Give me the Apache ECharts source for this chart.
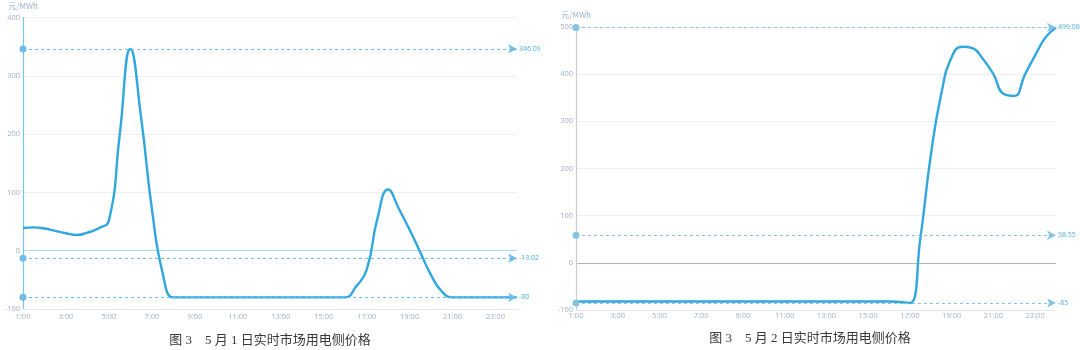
<!DOCTYPE html>
<html><head><meta charset="utf-8">
<script src="https://cdn.jsdelivr.net/npm/echarts@6/dist/echarts.min.js"></script>
<style>
html,body{margin:0;padding:0;background:#fff;}
#wrap{position:relative;width:1080px;height:350px;overflow:hidden;}
.c{position:absolute;top:0;width:540px;height:350px;overflow:hidden;}
</style></head>
<body><div id="wrap"><div id="c1" class="c" style="left:0"></div><div id="c2" class="c" style="left:540px"></div></div>
<script>
const categories = ["1:00","1:30","2:00","2:30","3:00","3:30","4:00","4:30","5:00","5:30","6:00","6:30","7:00","7:30","8:00","8:30","9:00","9:30","10:00","10:30","11:00","11:30","12:00","12:30","13:00","13:30","14:00","14:30","15:00","15:30","16:00","16:30","17:00","17:30","18:00","18:30","19:00","19:30","20:00","20:30","21:00","21:30","22:00","22:30","23:00","23:30","24:00"];
const may1Price = [39,40,38,34,30,27,31,38,52,198,346.09,228,72,-38,-80,
  -80,-80,-80,-80,-80,-80,-80,-80,-80,-80,-80,-80,-80,-80,-80,-80,
  -62,-33,55,105,72,36,-3,-42,-70,-80,
  -80,-80,-80,-80,-80,-80];
const may2Price = [-82,-82,-82,-82,-82,-82,-82,-82,-82,-82,-82,-82,-82,-82,-82,-82,-82,-82,-82,-82,-82,-82,-82,-82,-82,-82,-82,-82,-82,-82,-82,
  -83,-85,52,228,358,436,458,455,432,400,358,354,398,440,478,499.08];
const may1Marks = [346.09, -13.02, -80];
const may2Marks = [499.08, 58.55, -85];
const may1Ticks = {min:-100, max:400, interval:100};
const may2Ticks = {min:-100, max:500, interval:100};
const captions = ["图 3　5 月 1 日实时市场用电侧价格", "图 3　5 月 2 日实时市场用电侧价格"];
const unitName = "元/MWh";

const lineColor = '#31a7e0';
const markColor = '#4fb0e4';
const labelColor = '#9fb2c4';

function build(cfg){
  const nTicks = (cfg.ticks.max - cfg.ticks.min)/cfg.ticks.interval + 1;
  const splitColors = [];
  for(let i=0;i<nTicks;i++){
    const v = cfg.ticks.min + i*cfg.ticks.interval;
    splitColors.push(v===0 ? cfg.zeroColor : '#eceff3');
  }
  const ls = {color:cfg.markLineColor, type:[3,3], width:1};
  return {
    animation:false,
    grid:cfg.grid,
    xAxis:{type:'category', data:categories, boundaryGap:false,
      axisLine:{onZero:false, lineStyle:{color:'#e3e6ea'}},
      axisTick:{show:false},
      axisLabel:{interval:3, color:labelColor, fontSize:7.5, margin:cfg.xMargin, fontFamily:'Open Sans'},
      splitLine:{show:false}},
    yAxis:{type:'value', min:cfg.ticks.min, max:cfg.ticks.max, interval:cfg.ticks.interval,
      name:unitName, nameGap:cfg.nameGap, nameTextStyle:{color:labelColor, fontSize:8, fontFamily:'Noto Sans CJK SC'},
      axisLine:{show:true, lineStyle:{color:cfg.yAxisColor, width:1.2}},
      axisTick:{show:false},
      axisLabel:{color:labelColor, fontSize:7.5, margin:3, fontFamily:'Open Sans'},
      splitLine:{show:true, lineStyle:{color:splitColors, width:1}}},
    graphic:[{type:'text', left:'center', top:cfg.captionTop,
      style:{text:cfg.caption, fill:'#3a3a3a', font:'13px "Liberation Serif","Noto Sans CJK SC"'}}],
    series:[{type:'line', data:cfg.data, smooth:0.5, showSymbol:false,
      lineStyle:{color:lineColor, width:2.4}, itemStyle:{color:lineColor},
      markLine:{silent:true, symbol:['circle','arrow'], symbolSize:[7,9], precision:2,
        lineStyle:ls,
        itemStyle:{color:markColor},
        label:{color:markColor, fontSize:7, position:'end', distance:2, fontFamily:'Open Sans',
          formatter:p=>String(p.value)},
        data:cfg.marks.map(v=>({yAxis:v, lineStyle:ls}))}}]
  };
}

const c1 = echarts.init(document.getElementById('c1'), null, {renderer:'canvas'});
c1.setOption(build({grid:{left:23,right:23,top:17.5,bottom:41}, ticks:may1Ticks, data:may1Price, marks:may1Marks,
  zeroColor:'#a9d6f1', yAxisColor:'#7cc2ea', markLineColor:'#6dbde8', caption:captions[0], captionTop:334, nameGap:8, xMargin:4}));
const c2 = echarts.init(document.getElementById('c2'), null, {renderer:'canvas'});
c2.setOption(build({grid:{left:36,right:24,top:27,bottom:40}, ticks:may2Ticks, data:may2Price, marks:may2Marks,
  zeroColor:'#a9bcb3', yAxisColor:'#c9cdd1', markLineColor:'#86c3e0', caption:captions[1], captionTop:332, nameGap:8, xMargin:2}));
</script></body></html>
